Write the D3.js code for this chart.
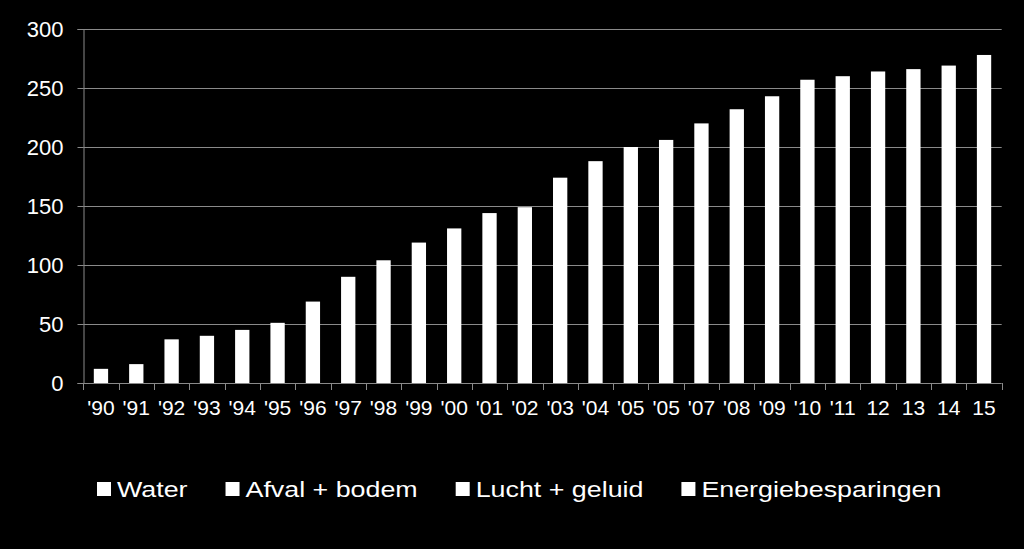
<!DOCTYPE html>
<html>
<head>
<meta charset="utf-8">
<script src="https://cdn.jsdelivr.net/npm/d3@7"></script>
<style>
  html, body { margin: 0; padding: 0; background: #000; }
  svg { display: block; }
  text { font-family: "Liberation Sans", Arial, sans-serif; fill: #fff; }
</style>
</head>
<body>
<svg id="chart" width="1024" height="549"></svg>
<script>
const categories = ["'90","'91","'92","'93","'94","'95","'96","'97","'98","'99","'00","'01","'02","'03","'04","'05","'05","'07","'08","'09","'10","'11","12","13","14","15"];
const totals = [12,16,37,40,45,51,69,90,104,119,131,144,149,174,188,200,206,220,232,243,257,260,264,266,269,278];
const seriesNames = ["Water","Afval + bodem","Lucht + geluid","Energiebesparingen"];
const yTicks = [0,50,100,150,200,250,300];

(function () {
const svg = d3.select("#chart");
svg.append("rect").attr("width",1024).attr("height",549).attr("fill","#000");

const mLeft = 83.3, mRight = 1001.7, mTop = 29, mBottom = 383;
const idx = d3.range(categories.length);
const x = d3.scaleBand().domain(idx).range([mLeft, mRight]).paddingInner(0.595).paddingOuter(0.2975);
const y = d3.scaleLinear().domain([0,300]).range([mBottom, mTop]);
const gridColor = "#8a8a8a";

// gridlines
svg.append("g").selectAll("line").data(yTicks.filter(d=>d>0)).join("line")
  .attr("x1", mLeft).attr("x2", mRight)
  .attr("y1", d=>Math.round(y(d))+0.5).attr("y2", d=>Math.round(y(d))+0.5)
  .attr("stroke", gridColor).attr("stroke-width",1);

// y axis
const yAxis = svg.append("g").attr("transform", `translate(${Math.round(mLeft)+0.5},0)`)
  .call(d3.axisLeft(y).tickValues(yTicks).tickSize(6).tickPadding(14));
yAxis.select(".domain").attr("stroke", gridColor);
yAxis.selectAll(".tick line").attr("stroke", gridColor);
yAxis.selectAll(".tick text").attr("font-size", 22).attr("fill","#fff")
  .attr("font-family","Liberation Sans, Arial, sans-serif");

// bars
svg.append("g").selectAll("rect").data(idx).join("rect")
  .attr("x", i=>x(i)).attr("width", x.bandwidth())
  .attr("y", i=>y(totals[i])).attr("height", i=>y(0)-y(totals[i]))
  .attr("fill","#fff");

// x axis
const xg = svg.append("g");
xg.append("line").attr("x1", mLeft).attr("x2", mRight)
  .attr("y1", Math.round(mBottom)+0.5).attr("y2", Math.round(mBottom)+0.5)
  .attr("stroke", gridColor);
const step = x.step();
xg.selectAll("line.tk").data(d3.range(categories.length+1)).join("line").attr("class","tk")
  .attr("x1", i=>Math.round(mLeft + i*step)+0.5).attr("x2", i=>Math.round(mLeft + i*step)+0.5)
  .attr("y1", mBottom).attr("y2", mBottom+7).attr("stroke", gridColor);
xg.selectAll("text").data(idx).join("text")
  .attr("x", i=>x(i)+x.bandwidth()/2).attr("y", 415)
  .attr("text-anchor","middle").attr("font-size", 21)
  .text(i=>categories[i]);

// legend
const lg = svg.append("g");
let cx = 97;
seriesNames.forEach(name => {
  lg.append("rect").attr("x", cx).attr("y", 482).attr("width", 14).attr("height", 14).attr("fill","#fff");
  const t = lg.append("text").attr("font-size", 22)
    .attr("transform", `translate(${cx+20},496.5) scale(1.22,1)`).text(name);
  const w = t.node().getComputedTextLength()*1.22;
  cx += 20 + w + 38;
});
})();
</script>
</body>
</html>
